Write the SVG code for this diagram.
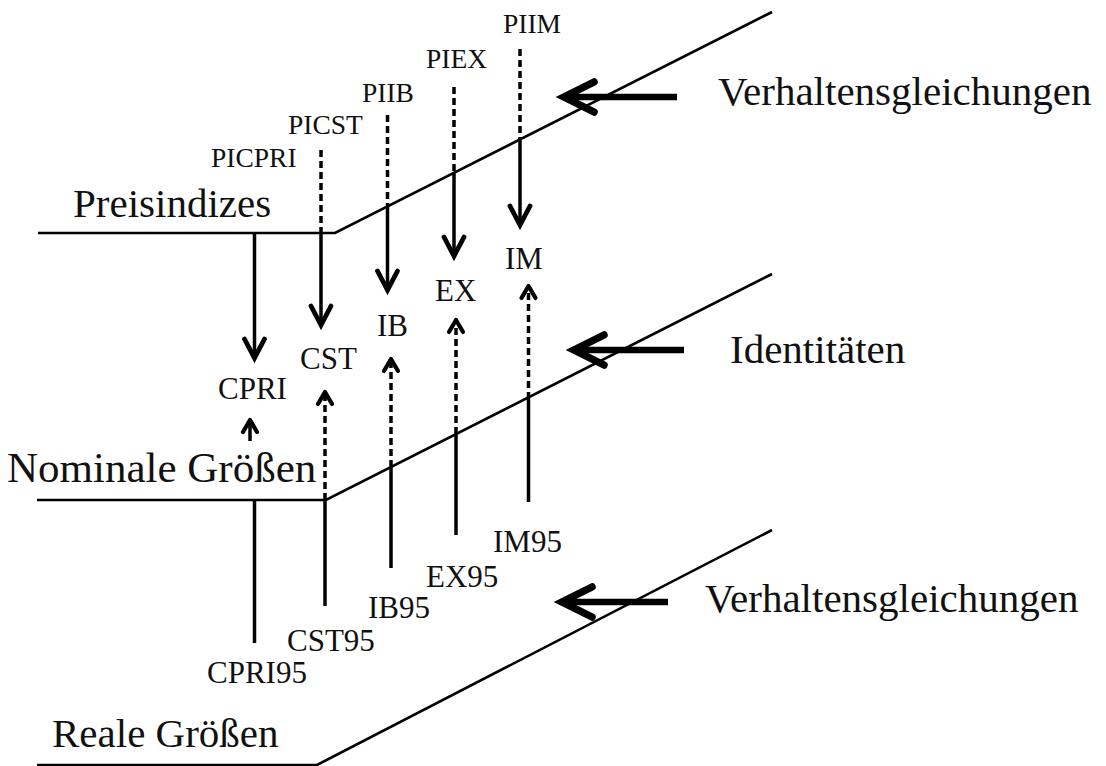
<svg xmlns="http://www.w3.org/2000/svg" width="1106" height="766" viewBox="0 0 1106 766">
  <style>
    text { font-family: "Liberation Serif", "Times New Roman", serif; fill: #111; }
    .big { font-size: 41px; }
    .nom { font-size: 43px; }
    .mid { font-size: 31px; }
    .sm { font-size: 27.5px; }
    .plane { fill: none; stroke: #000; stroke-width: 2.6; }
    .solid { fill: none; stroke: #000; stroke-width: 3.5; }
    .dash { fill: none; stroke: #000; stroke-width: 3.5; stroke-dasharray: 7 4; }
    .big-arrow { fill: none; stroke: #000; stroke-width: 6.5; }
  </style>
  <defs>
    <marker id="down" markerUnits="userSpaceOnUse" viewBox="-30 -20 40 40" markerWidth="40" markerHeight="40" refX="0" refY="0" orient="auto" overflow="visible">
      <path d="M-19,-10 L0,0 L-19,10" fill="none" stroke="#000" stroke-width="4.8" stroke-linecap="round" stroke-linejoin="miter"/>
    </marker>
    <marker id="up" markerUnits="userSpaceOnUse" viewBox="-30 -20 40 40" markerWidth="40" markerHeight="40" refX="0" refY="0" orient="auto" overflow="visible">
      <path d="M-12,-7 L0,0 L-12,7" fill="none" stroke="#000" stroke-width="4.2" stroke-linecap="round" stroke-linejoin="round"/>
    </marker>
    <marker id="left" markerUnits="userSpaceOnUse" viewBox="-40 -25 50 50" markerWidth="50" markerHeight="50" refX="0" refY="0" orient="auto" overflow="visible">
      <path d="M-30,-15 L0,0 L-30,15" fill="none" stroke="#000" stroke-width="7.5" stroke-linecap="round" stroke-linejoin="miter"/>
    </marker>
  </defs>
  <rect width="1106" height="766" fill="#fff"/>

  <g id="planes">
    <path class="plane" d="M38,233 H335 L772,12"/>
    <path class="plane" d="M37,500 H326 L772,274"/>
    <path class="plane" d="M37,765 H317 L772,530"/>
  </g>

  <g id="plane-labels">
    <g id="node-preisindizes"><text class="big" x="73" y="217">Preisindizes</text></g>
    <g id="node-nominale"><text class="nom" x="7" y="482">Nominale Größen</text></g>
    <g id="node-reale"><text class="big" x="52" y="747">Reale Größen</text></g>
    <g id="node-verhalten1"><text class="big" x="718" y="105">Verhaltensgleichungen</text></g>
    <g id="node-identitaeten"><text class="big" x="730" y="363">Identitäten</text></g>
    <g id="node-verhalten2"><text class="big" x="705" y="612">Verhaltensgleichungen</text></g>
  </g>

  <g id="node-picpri"><text class="sm" x="211" y="167">PICPRI</text></g>
  <g id="node-picst"><text class="sm" x="288" y="134">PICST</text></g>
  <g id="node-piib"><text class="sm" x="362" y="102">PIIB</text></g>
  <g id="node-piex"><text class="sm" x="426" y="68">PIEX</text></g>
  <g id="node-piim"><text class="sm" x="503" y="33">PIIM</text></g>

  <g id="node-cpri"><text class="mid" x="218" y="399">CPRI</text></g>
  <g id="node-cst"><text class="mid" x="300" y="369">CST</text></g>
  <g id="node-ib"><text class="mid" x="377" y="336">IB</text></g>
  <g id="node-ex"><text class="mid" x="435" y="301">EX</text></g>
  <g id="node-im"><text class="mid" x="505" y="269">IM</text></g>

  <g id="node-cpri95"><text class="mid" x="207" y="683">CPRI95</text></g>
  <g id="node-cst95"><text class="mid" x="287" y="651">CST95</text></g>
  <g id="node-ib95"><text class="mid" x="368" y="618">IB95</text></g>
  <g id="node-ex95"><text class="mid" x="426" y="587">EX95</text></g>
  <g id="node-im95"><text class="mid" x="493" y="552">IM95</text></g>

  <g id="connectors">
    <!-- price indices to nominal -->
    <path class="solid" d="M254.5,233 V358" marker-end="url(#down)"/>
    <path class="dash" d="M321,150 V233"/>
    <path class="solid" d="M321,233 V325" marker-end="url(#down)"/>
    <path class="dash" d="M387.5,115 V207"/>
    <path class="solid" d="M387.5,207 V290" marker-end="url(#down)"/>
    <path class="dash" d="M454,87 V173"/>
    <path class="solid" d="M454,173 V256" marker-end="url(#down)"/>
    <path class="dash" d="M520,49 V140"/>
    <path class="solid" d="M520,140 V225" marker-end="url(#down)"/>

    <!-- real to nominal -->
    <path class="solid" d="M250,441 V420" marker-end="url(#up)"/>
    <path class="solid" d="M254.5,500 V643"/>
    <path class="solid" d="M325,606 V500"/>
    <path class="dash" d="M325,500 V392" marker-end="url(#up)"/>
    <path class="solid" d="M391,568 V467"/>
    <path class="dash" d="M391,467 V359" marker-end="url(#up)"/>
    <path class="solid" d="M456,535 V434"/>
    <path class="dash" d="M456,434 V320" marker-end="url(#up)"/>
    <path class="solid" d="M528.5,502 V399"/>
    <path class="dash" d="M528.5,399 V286" marker-end="url(#up)"/>

    <!-- equation type arrows -->
    <path class="big-arrow" d="M677,97 H564" marker-end="url(#left)"/>
    <path class="big-arrow" d="M684,350 H574" marker-end="url(#left)"/>
    <path class="big-arrow" d="M668,602 H562" marker-end="url(#left)"/>
  </g>
</svg>
